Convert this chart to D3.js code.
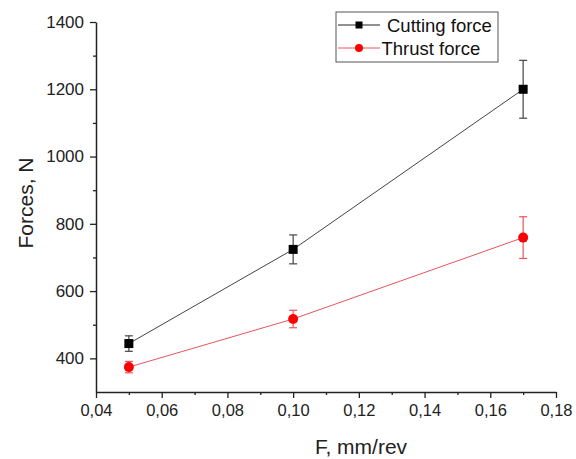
<!DOCTYPE html>
<html><head><meta charset="utf-8">
<script src="https://cdn.jsdelivr.net/npm/d3@7"></script>
<style>body{margin:0;background:#fff}svg{display:block}text{font-family:Arial,"Liberation Sans",sans-serif}</style>
</head><body>
<svg id="c" width="576" height="459"></svg>
<script>
const feeds = [0.05, 0.10, 0.17];
const cutting = [444, 724, 1200];
const cuttingErr = [23, 43, 86];
const thrust = [374, 517, 759];
const thrustErr = [17, 26, 62];
const xTicks = [0.04, 0.06, 0.08, 0.10, 0.12, 0.14, 0.16, 0.18];
const yTicks = [400, 600, 800, 1000, 1200, 1400];
const seriesNames = ["Cutting force", "Thrust force"];

const svg = d3.select("#c");
const x = d3.scaleLinear().domain([0.04, 0.18]).range([96, 556]);
const y = d3.scaleLinear().domain([300, 1400]).range([392, 22]);

const fmt = d => d3.format(".2f")(d).replace(".", ",");

// minor ticks
const xMinor = d3.range(0.05, 0.18, 0.02);
const yMinor = d3.range(500, 1400, 200);
svg.append("g").attr("transform","translate(0,392)")
  .call(d3.axisBottom(x).tickValues(xMinor).tickSize(3).tickFormat(""))
  .call(g=>g.select(".domain").remove())
  .selectAll("line").attr("stroke","#222").attr("stroke-width",1.3);
svg.append("g").attr("transform","translate(96,0)")
  .call(d3.axisLeft(y).tickValues(yMinor).tickSize(3).tickFormat(""))
  .call(g=>g.select(".domain").remove())
  .selectAll("line").attr("stroke","#222").attr("stroke-width",1.3);

const xa = svg.append("g").attr("transform","translate(0,392)")
  .call(d3.axisBottom(x).tickValues(xTicks).tickSize(6).tickSizeOuter(0).tickPadding(6).tickFormat(fmt));
xa.selectAll("text").attr("font-size","16.5px").attr("fill","#222");
const ya = svg.append("g").attr("transform","translate(96,0)")
  .call(d3.axisLeft(y).tickValues(yTicks).tickSize(6).tickSizeOuter(0).tickPadding(6).tickFormat(d3.format("d")));
ya.selectAll("text").attr("font-size","17px").attr("fill","#222");
[xa, ya].forEach(a => {
  a.select(".domain").attr("stroke","#222").attr("stroke-width",1.5);
  a.selectAll(".tick line").attr("stroke","#222").attr("stroke-width",1.3);
});

svg.append("text").attr("x",361).attr("y",454).attr("text-anchor","middle")
  .attr("font-size","21px").attr("fill","#222").text("F, mm/rev");
svg.append("text").attr("transform","translate(33,203) rotate(-90)").attr("text-anchor","middle")
  .attr("font-size","21px").attr("fill","#222").text("Forces, N");

function drawSeries(vals, errs, color, lineColor, shape) {
  const g = svg.append("g");
  const pts = feeds.map((f,i)=>({f, v: vals[i], e: errs[i]}));
  g.append("path").datum(pts)
    .attr("d", d3.line().x(d=>x(d.f)).y(d=>y(d.v)))
    .attr("fill","none").attr("stroke",lineColor).attr("stroke-width",1);
  const eb = g.selectAll(".eb").data(pts).enter().append("g");
  eb.append("line").attr("x1",d=>x(d.f)).attr("x2",d=>x(d.f))
    .attr("y1",d=>y(d.v+d.e)).attr("y2",d=>y(d.v-d.e)).attr("stroke",lineColor).attr("stroke-width",1.2);
  [1,-1].forEach(s=>{
    eb.append("line").attr("x1",d=>x(d.f)-4).attr("x2",d=>x(d.f)+4)
      .attr("y1",d=>y(d.v+s*d.e)).attr("y2",d=>y(d.v+s*d.e)).attr("stroke",lineColor).attr("stroke-width",1.2);
  });
  if (shape==="square") {
    g.selectAll(".m").data(pts).enter().append("rect")
      .attr("x",d=>x(d.f)-4.5).attr("y",d=>y(d.v)-4.5).attr("width",9).attr("height",9).attr("fill",color);
  } else {
    g.selectAll(".m").data(pts).enter().append("circle")
      .attr("cx",d=>x(d.f)).attr("cy",d=>y(d.v)).attr("r",5).attr("fill",color);
  }
}
drawSeries(cutting, cuttingErr, "#000", "#444", "square");
drawSeries(thrust, thrustErr, "#f00", "#e8545c", "circle");

// legend
const lg = svg.append("g");
lg.append("rect").attr("x",336).attr("y",12).attr("width",162).attr("height",50)
  .attr("fill","#fff").attr("stroke","#555").attr("stroke-width",1);
lg.append("line").attr("x1",338).attr("x2",380).attr("y1",25).attr("y2",25).attr("stroke","#222");
lg.append("rect").attr("x",355.5).attr("y",21.5).attr("width",7).attr("height",7).attr("fill","#000");
lg.append("text").attr("x",387).attr("y",31.5).attr("font-size","18.5px").attr("fill","#111").text(seriesNames[0]);
lg.append("line").attr("x1",338).attr("x2",380).attr("y1",48).attr("y2",48).attr("stroke","#e8545c");
lg.append("circle").attr("cx",359).attr("cy",48).attr("r",4).attr("fill","#f00");
lg.append("text").attr("x",381.5).attr("y",54.5).attr("font-size","18.5px").attr("fill","#111").text(seriesNames[1]);
</script>
</body></html>
